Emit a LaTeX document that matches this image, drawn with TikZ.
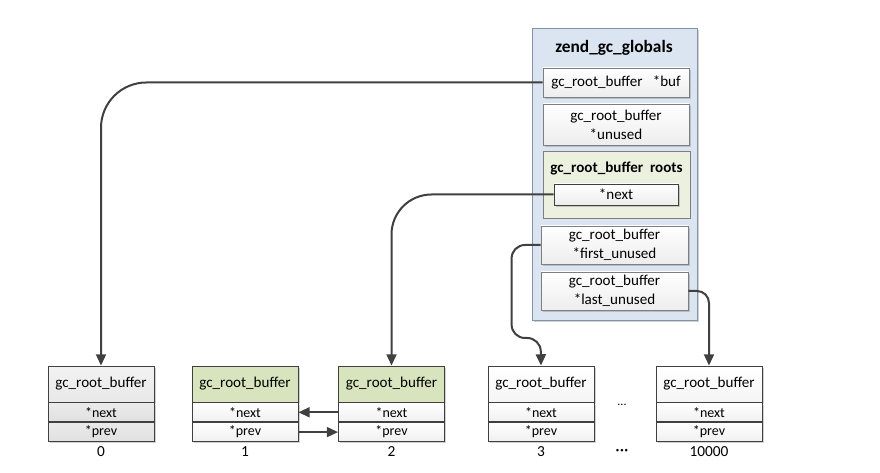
\documentclass[tikz,border=0pt]{standalone}
\usepackage{fontspec}
\setmainfont{Carlito}
\usetikzlibrary{arrows.meta,shadows}

\definecolor{ink}{HTML}{404040}
\definecolor{edge}{HTML}{7F7F7F}
\definecolor{globfill}{HTML}{DBE5F1}
\definecolor{globedge}{HTML}{8093A8}
\definecolor{rootsfill}{HTML}{EBF1DE}
\definecolor{headgreen}{HTML}{D7E4BD}

\begin{document}
\begin{tikzpicture}[x=0.75pt, y=-0.75pt,
  every node/.style={inner sep=0pt, align=center},
  shade/.style={drop shadow={shadow xshift=1.3pt, shadow yshift=-1.3pt, opacity=0.3, fill=black!60}},
  maintext/.style={font=\fontsize{11.3}{14}\selectfont},
  rowtext/.style={font=\fontsize{10.5}{12}\selectfont},
  field/.style={maintext, draw=edge, line width=0.6pt, shade, top color=white, bottom color=black!7},
  hdr/.style={maintext, draw=ink, line width=0.6pt, shade, minimum width=79.5pt, minimum height=27pt},
  row/.style={rowtext, draw=ink, line width=0.6pt, shade, minimum width=79.5pt, minimum height=14.25pt, anchor=north},
  plainhdr/.style={hdr, top color=white, bottom color=black!4},
  grayhdr/.style={hdr, top color=black!5, bottom color=black!9},
  greenhdr/.style={hdr, fill=headgreen},
  plainrow/.style={row, top color=white, bottom color=black!6},
  grayrow/.style={row, top color=black!8, bottom color=black!12},
  link/.style={draw=ink, line width=1.5pt, -{Triangle[length=8.5pt, width=7.5pt]}},
  idx/.style={font=\fontsize{11.5}{13}\selectfont}
]
\useasboundingbox (0,0) rectangle (880,473);

% zend_gc_globals structure
\node[draw=globedge, fill=globfill, line width=0.6pt, shade,
      minimum width=123.75pt, minimum height=219pt] (glob) at (614.5,174) {};
\node[font=\fontsize{13}{15}\selectfont\bfseries] (gtitle) at (614,48) {zend\_gc\_globals};

\node[field, minimum width=109.5pt, minimum height=21.75pt] (buf) at (616,82.5)
  {gc\_root\_buffer\ \ \ *buf};
\node[field, minimum width=109.5pt, minimum height=30.75pt] (unused) at (616,124.5)
  {gc\_root\_buffer\\*unused};
\node[draw=edge, line width=0.6pt, fill=rootsfill,
      minimum width=110.25pt, minimum height=50.25pt] (roots) at (616.5,184.5) {};
\node[maintext, font=\fontsize{11.3}{14}\selectfont\bfseries] (rtitle) at (616.5,168)
  {gc\_root\_buffer\ \ roots};
\node[field, draw=ink, minimum width=93pt, minimum height=15.75pt] (nx) at (616,194.5) {*next};
\node[field, minimum width=110.25pt, minimum height=28.5pt] (fu) at (614.5,245)
  {gc\_root\_buffer\\*first\_unused};
\node[field, minimum width=110.25pt, minimum height=28.5pt] (lu) at (614.5,291)
  {gc\_root\_buffer\\*last\_unused};

% gc_root_buffer slots
\node[grayhdr] (b0) at (101,384) {gc\_root\_buffer};
\node[grayrow] (b0n) at (b0.south) {*next};
\node[grayrow] (b0p) at (b0n.south) {*prev};

\node[greenhdr] (b1) at (245,384) {gc\_root\_buffer};
\node[plainrow] (b1n) at (b1.south) {*next};
\node[plainrow] (b1p) at (b1n.south) {*prev};

\node[greenhdr] (b2) at (391.5,384) {gc\_root\_buffer};
\node[plainrow] (b2n) at (b2.south) {*next};
\node[plainrow] (b2p) at (b2n.south) {*prev};

\node[plainhdr] (b3) at (541,384) {gc\_root\_buffer};
\node[plainrow] (b3n) at (b3.south) {*next};
\node[plainrow] (b3p) at (b3n.south) {*prev};

\node[plainhdr] (b4) at (709,384) {gc\_root\_buffer};
\node[plainrow] (b4n) at (b4.south) {*next};
\node[plainrow] (b4p) at (b4n.south) {*prev};

% slot indices
\node[idx] (i0) at (101,452) {0};
\node[idx] (i1) at (245,452) {1};
\node[idx] (i2) at (391.5,452) {2};
\node[idx] (i3) at (541,452) {3};
\node[idx, font=\fontsize{13}{15}\selectfont] (idots) at (622,452) {···};
\node[idx] (i4) at (709,452) {10000};
\node[font=\fontsize{9}{11}\selectfont] (rdots) at (622,405) {...};

% pointers from the globals into the buffer
\draw[link, rounded corners=34pt] (buf.west) -| (b0.north);
\draw[link, rounded corners=30pt] (nx.west) -| (b2.north);
\draw[link, rounded corners=10pt] (fu.west) -- ++(-29,0) -- ++(0,93) -- ++(29,0) -- (b3.north);
\draw[link, rounded corners=9pt] (lu.east) -| (b4.north);

% doubly linked roots list
\draw[link] (b2n.west) -- (b1n.east);
\draw[link] (b1p.east) -- (b2p.west);
\end{tikzpicture}
\end{document}
